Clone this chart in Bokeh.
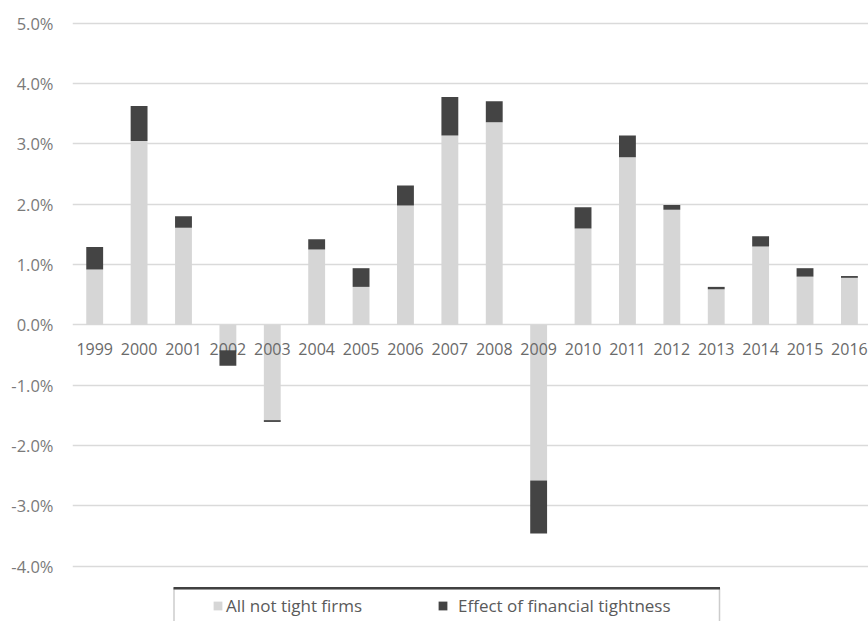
from bokeh.plotting import figure
from bokeh.models import (ColumnDataSource, FixedTicker, PrintfTickFormatter,
                          Legend, LegendItem, BoxAnnotation, Range1d)
from bokeh.core.properties import value
from bokeh.embed import file_html
from bokeh.resources import INLINE

# Annual growth split into the part from firms that are not financially tight
# and the additional effect of financial tightness (percentage points)
years = ["1999", "2000", "2001", "2002", "2003", "2004", "2005", "2006", "2007",
         "2008", "2009", "2010", "2011", "2012", "2013", "2014", "2015", "2016"]
not_tight = [0.92, 3.05, 1.61, -0.42, -1.58, 1.25, 0.63, 1.98, 3.14,
             3.36, -2.58, 1.60, 2.78, 1.91, 0.59, 1.30, 0.80, 0.78]
tightness = [0.37, 0.58, 0.19, -0.26, -0.03, 0.17, 0.31, 0.33, 0.64,
             0.35, -0.88, 0.35, 0.36, 0.08, 0.04, 0.17, 0.14, 0.03]
y_ticks = [-4, -3, -2, -1, 0, 1, 2, 3, 4, 5]

LIGHT = "#d6d6d6"
DARK = "#444444"
TEXT = "#6a6a6a"
FONT = "Open Sans"

idx = list(range(len(years)))
src = ColumnDataSource(dict(
    x=idx,
    year=years,
    base=[0.0] * len(years),
    nt=not_tight,
    top=[a + b for a, b in zip(not_tight, tightness)],
))

p = figure(width=868, height=621, output_backend="svg", toolbar_location=None,
           x_range=Range1d(-0.5, 17.43), y_range=Range1d(-4.92, 5.38),
           min_border_left=72, min_border_right=0, min_border_top=0,
           min_border_bottom=0)
p.outline_line_color = None
p.background_fill_color = "white"
p.border_fill_color = "white"

p.xaxis.visible = False
p.xgrid.grid_line_color = None
p.ygrid.grid_line_color = "#dadada"
p.ygrid.grid_line_width = 1.5

ya = p.yaxis[0]
ya.ticker = FixedTicker(ticks=y_ticks)
ya.formatter = PrintfTickFormatter(format="%.1f%%")
ya.axis_line_color = None
ya.major_tick_line_color = None
ya.minor_tick_line_color = None
ya.major_tick_out = 0
ya.major_label_standoff = 19
ya.major_label_text_font = FONT
ya.major_label_text_font_size = "16.5px"
ya.major_label_text_color = "#7a7a7a"

W = 0.38
r_nt = p.vbar(x="x", bottom="base", top="nt", width=W, source=src,
              fill_color=LIGHT, line_color=None)

# year labels sit just under the zero line
p.text(x="x", y="base", text="year", source=src, text_align="center",
       text_baseline="middle", y_offset=24, text_font=value(FONT),
       text_font_size="16px", text_color=TEXT)

r_t = p.vbar(x="x", bottom="nt", top="top", width=W, source=src,
             fill_color=DARK, line_color=None)

# legend frame (screen units, measured from the frame's bottom-left corner)
box = BoxAnnotation(left=101.5, right=647, top=33, bottom=-10,
                    left_units="screen", right_units="screen",
                    top_units="screen", bottom_units="screen",
                    fill_alpha=0, line_color="#555555", line_width=1.5)
top_edge = BoxAnnotation(left=101, right=647.5, top=34.5, bottom=32,
                         left_units="screen", right_units="screen",
                         top_units="screen", bottom_units="screen",
                         fill_color="#404040", fill_alpha=1, line_color=None)
p.add_layout(box)
p.add_layout(top_edge)

def make_legend(label, renderer, x, standoff):
    lg = Legend(items=[LegendItem(label=label, renderers=[renderer])],
                location=(x, 4), padding=0, margin=0, spacing=0,
                glyph_width=11, glyph_height=11, label_standoff=standoff,
                label_height=20, border_line_color=None,
                background_fill_alpha=0, label_text_font=FONT,
                label_text_font_size="17px", label_text_color="#5a5a5a")
    return lg

p.add_layout(make_legend("All not tight firms", r_nt, 140, 3))
p.add_layout(make_legend("Effect of financial tightness", r_t, 365, 10))

open("out.html", "w").write(file_html(p, INLINE))
